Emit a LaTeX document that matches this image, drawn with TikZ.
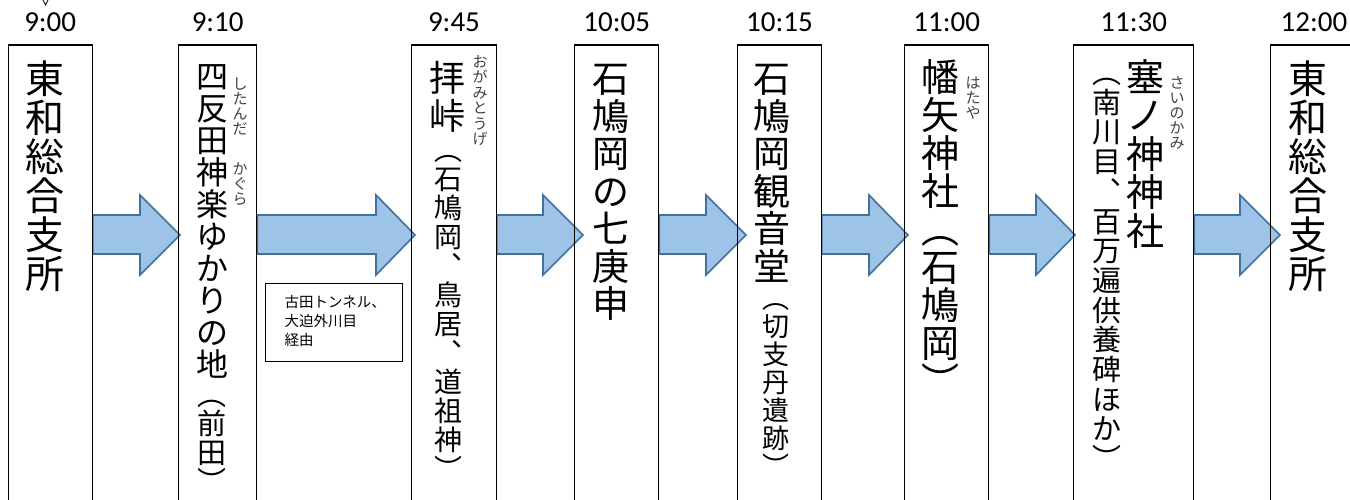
\documentclass[tikz,border=0pt]{standalone}
\usepackage{fontspec}
\usetikzlibrary{backgrounds}
\newfontfamily\jpfont{Noto Sans CJK JP}
\newfontfamily\timefont{Carlito}
\newcommand\vc{\rule[-0.12em]{0pt}{1em}}
\newcommand\colfont[2]{\jpfont\fontsize{#1}{#2}\selectfont\lineskiplimit=-\maxdimen\lineskip=0pt}
\definecolor{arrowfill}{HTML}{9DC3E6}
\definecolor{arrowline}{HTML}{41719C}
\tikzset{
  box/.style={draw=black, line width=1.4pt, inner sep=0pt, minimum height=480pt, anchor=north west},
  vcol/.style={inner sep=0pt, outer sep=0pt, anchor=north, align=center},
  furi/.style={vcol, text=black!75, font={\colfont{15}{15}}},
  timelbl/.style={inner sep=0pt, anchor=base, font={\timefont\fontsize{29}{29}\selectfont}},
  blockarrow/.style={fill=arrowfill, draw=arrowline, line width=1.6pt, line join=miter},
}
\begin{document}
\begin{tikzpicture}[x=1pt,y=-1pt]
\useasboundingbox (0,0) rectangle (1350,500);
\clip (0,0) rectangle (1350,500);

% boxes
\node[box, minimum width=84pt] (b1) at (7.5,44.5) {};
\node[box, minimum width=78pt] (b2) at (178,44.5) {};
\node[box, minimum width=84.5pt] (b3) at (411,44.5) {};
\node[box, minimum width=84pt] (b4) at (574,44.5) {};
\node[box, minimum width=83.5pt] (b5) at (737,44.5) {};
\node[box, minimum width=84pt] (b6) at (904,44.5) {};
\node[box, minimum width=120pt] (b7) at (1073,44.5) {};
\node[box, minimum width=84pt] (b8) at (1270,44.5) {};

% block arrows (behind the boxes)
\begin{pgfonlayer}{background}
\draw[blockarrow] (b1.east |- 0,215) -- (140,215) -- (140,195) -- (180,235) -- (140,275) -- (140,254) -- (b1.east |- 0,254) -- cycle;
\draw[blockarrow] (b2.east |- 0,215) -- (376,215) -- (376,195) -- (415,235) -- (376,275) -- (376,254) -- (b2.east |- 0,254) -- cycle;
\draw[blockarrow] (b3.east |- 0,215) -- (543,215) -- (543,195) -- (583,235) -- (543,275) -- (543,254) -- (b3.east |- 0,254) -- cycle;
\draw[blockarrow] (b4.east |- 0,215) -- (706,215) -- (706,195) -- (746,235) -- (706,275) -- (706,254) -- (b4.east |- 0,254) -- cycle;
\draw[blockarrow] (b5.east |- 0,215) -- (869,215) -- (869,195) -- (908,235) -- (869,275) -- (869,254) -- (b5.east |- 0,254) -- cycle;
\draw[blockarrow] (b6.east |- 0,215) -- (1036,215) -- (1036,195) -- (1075,235) -- (1036,275) -- (1036,254) -- (b6.east |- 0,254) -- cycle;
\draw[blockarrow] (b7.east |- 0,215) -- (1240,215) -- (1240,195) -- (1280,235) -- (1240,275) -- (1240,254) -- (b7.east |- 0,254) -- cycle;
\end{pgfonlayer}

% small mark at top
\draw[line width=0.7pt] (43,0) -- (45.5,5) -- (48,0);

% time labels
\node[timelbl] (h1) at (b1.north |- 0,32) {9:00};
\node[timelbl] (h2) at (b2.north |- 0,32) {9:10};
\node[timelbl] (h3) at (b3.north |- 0,32) {9:45};
\node[timelbl] (h4) at (b4.north |- 0,32) {10:05};
\node[timelbl] (h5) at (b5.north |- 0,32) {10:15};
\node[timelbl] (h6) at (b6.north |- 0,32) {11:00};
\node[timelbl] (h7) at (b7.north |- 0,32) {11:30};
\node[timelbl] (h8) at (1314,32) {12:00};

% vertical texts
\node[vcol, font={\colfont{39}{39}}] (t1) at (44.5,59) {\vc 東\\\vc 和\\\vc 総\\\vc 合\\\vc 支\\\vc 所};

\node[vcol, font={\colfont{32}{32}}] (t2) at (212,60) {\vc 四\\\vc 反\\\vc 田\\\vc 神\\\vc 楽\\\vc ゆ\\\vc か\\\vc り\\\vc の\\\vc 地};
\node[vcol, font={\colfont{29}{29}}] (t2p) at (212,380) {\vc ︵\\\vc 前\\\vc 田\\\vc ︶};
\node[furi] (f2a) at (240,76) {\vc し\\\vc た\\\vc ん\\\vc だ};
\node[furi] (f2b) at (240,161) {\vc か\\\vc ぐ\\\vc ら};

\node[vcol, font={\colfont{36}{38}}] (t3) at (447,60) {\vc 拝\\\vc 峠};
\node[furi, font={\colfont{15}{15.5}}] (f3) at (480,54) {\vc お\\\vc が\\\vc み\\\vc と\\\vc う\\\vc げ};
\node[vcol, font={\colfont{28}{29}}] (t3p) at (448,136) {\vc ︵\\\vc 石\\\vc 鳩\\\vc 岡\\\vc ︑\\\vc 鳥\\\vc 居\\\vc ︑\\\vc 道\\\vc 祖\\\vc 神\\\vc ︶};

\node[vcol, font={\colfont{37}{37.5}}] (t4) at (611,60) {\vc 石\\\vc 鳩\\\vc 岡\\\vc の\\\vc 七\\\vc 庚\\\vc 申};

\node[vcol, font={\colfont{37}{37.5}}] (t5) at (772,60) {\vc 石\\\vc 鳩\\\vc 岡\\\vc 観\\\vc 音\\\vc 堂};
\node[vcol, font={\colfont{27}{28}}] (t5p) at (776,285) {\vc ︵\\\vc 切\\\vc 支\\\vc 丹\\\vc 遺\\\vc 跡\\\vc ︶};

\node[vcol, font={\colfont{38}{38}}] (t6) at (940,58) {\vc 幡\\\vc 矢\\\vc 神\\\vc 社\\\vc ︵\\\vc 石\\\vc 鳩\\\vc 岡\\\vc ︶};
\node[furi] (f6) at (973,75) {\vc は\\\vc た\\\vc や};

\node[vcol, font={\colfont{38}{38.5}}] (t7) at (1145,58) {\vc 塞\\\vc ノ\\\vc 神\\\vc 神\\\vc 社};
\node[furi] (f7) at (1177,75) {\vc さ\\\vc い\\\vc の\\\vc か\\\vc み};
\node[vcol, font={\colfont{29}{29.7}}] (t7b) at (1107,58) {\vc ︵\\\vc 南\\\vc 川\\\vc 目\\\vc ︑\\\vc 百\\\vc 万\\\vc 遍\\\vc 供\\\vc 養\\\vc 碑\\\vc ほ\\\vc か\\\vc ︶};

\node[vcol, font={\colfont{39}{39}}] (t8) at (1308,59) {\vc 東\\\vc 和\\\vc 総\\\vc 合\\\vc 支\\\vc 所};

% route note
\node[draw=black, line width=1pt, inner sep=0pt, minimum width=137pt, minimum height=78pt, anchor=north west] (note) at (265,283) {};
\node[inner sep=0pt, anchor=north west, align=left, font={\colfont{14.5}{19}}] (notetext) at (284.5,295) {\vc 古田トンネル、\\\vc 大迫外川目\\\vc 経由};
\end{tikzpicture}
\end{document}
